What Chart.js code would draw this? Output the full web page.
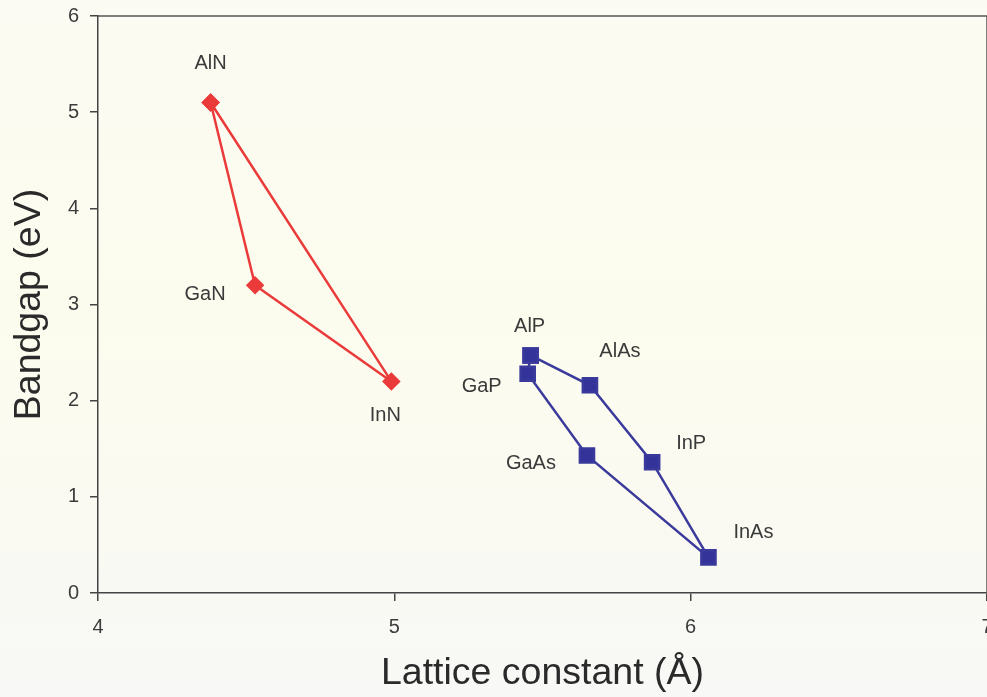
<!DOCTYPE html>
<html>
<head>
<meta charset="utf-8">
<title>Bandgap vs lattice constant</title>
<script src="https://cdn.jsdelivr.net/npm/chart.js@4.4.1/dist/chart.umd.min.js"></script>
<style>
  html, body { margin: 0; padding: 0; background: #fafaf4; }
  #wrap { width: 987px; height: 697px; }
</style>
</head>
<body>
<div id="wrap"><canvas id="gapChart" width="987" height="697"></canvas></div>
<script>
// III-nitrides: lattice constant (A) and bandgap (eV)
const nitrideNames = ["AlN", "GaN", "InN"];
const nitrideLattice = [4.38, 4.53, 4.99];
const nitrideGap = [5.1, 3.2, 2.2];

// III-phosphides / arsenides, listed round the outline
const arsenideNames = ["AlP", "AlAs", "InP", "InAs", "GaAs", "GaP"];
const arsenideLattice = [5.46, 5.66, 5.87, 6.06, 5.65, 5.45];
const arsenideGap = [2.47, 2.16, 1.36, 0.37, 1.43, 2.28];

const xTicks = [4, 5, 6, 7];
const yTicks = [0, 1, 2, 3, 4, 5, 6];

// closed outline: repeat the first point at the end
function outline(xs, ys) {
  const pts = xs.map((x, i) => ({ x: x, y: ys[i] }));
  pts.push({ x: xs[0], y: ys[0] });
  return pts;
}

// where each name sits relative to its marker (px)
const labelOffset = {
  AlN: [0, -39], GaN: [-50, 9], InN: [-6, 34],
  AlP: [-1, -29], AlAs: [30, -34], GaP: [-46, 13],
  InP: [39, -19], GaAs: [-56, 8], InAs: [45, -25]
};

const paperBg = {
  id: "paperBg",
  beforeDraw(chart) {
    const c = chart.ctx;
    const g = c.createLinearGradient(0, 0, 0, chart.height);
    g.addColorStop(0, "#fbfbf3");
    g.addColorStop(0.45, "#fcfcee");
    g.addColorStop(1, "#f8f8f6");
    c.save();
    c.fillStyle = g;
    c.fillRect(0, 0, chart.width, chart.height);
    c.restore();
  }
};

const frameAndNames = {
  id: "frameAndNames",
  afterDatasetsDraw(chart) {
    const c = chart.ctx;
    const a = chart.chartArea;
    c.save();
    c.strokeStyle = "#555";
    c.lineWidth = 1.5;
    c.beginPath();
    c.moveTo(a.left, a.top);
    c.lineTo(a.right, a.top);
    c.lineTo(a.right, a.bottom);
    c.stroke();

    c.font = "20px 'Liberation Sans', Arial, sans-serif";
    c.fillStyle = "#3a3a3a";
    c.textAlign = "center";
    c.textBaseline = "middle";
    chart.data.datasets.forEach((ds, di) => {
      const meta = chart.getDatasetMeta(di);
      ds.names.forEach((name, i) => {
        const pt = meta.data[i];
        const off = labelOffset[name] || [0, 0];
        c.fillText(name, pt.x + off[0], pt.y + off[1]);
      });
    });
    c.restore();
  }
};

const ctx = document.getElementById("gapChart").getContext("2d");
new Chart(ctx, {
  type: "scatter",
  data: {
    datasets: [
      {
        label: "Nitrides",
        names: nitrideNames,
        data: outline(nitrideLattice, nitrideGap),
        showLine: true,
        borderColor: "#ea3a3a",
        backgroundColor: "#ea3a3a",
        borderWidth: 2.5,
        pointStyle: "rectRot",
        pointRadius: 7.5,
        pointHoverRadius: 7.5
      },
      {
        label: "Phosphides and arsenides",
        names: arsenideNames,
        data: outline(arsenideLattice, arsenideGap),
        showLine: true,
        borderColor: "#3a3a9c",
        backgroundColor: "#33339a",
        borderWidth: 2.5,
        pointStyle: "rect",
        pointRadius: 10,
        pointHoverRadius: 10
      }
    ]
  },
  options: {
    responsive: false,
    animation: false,
    layout: { autoPadding: false, padding: { top: 16, right: 0, left: 0, bottom: 0 } },
    plugins: {
      legend: { display: false },
      tooltip: { enabled: false }
    },
    scales: {
      x: {
        type: "linear",
        min: 4,
        max: 7,
        afterBuildTicks(scale) {
          scale.ticks = xTicks.map(v => ({ value: v }));
        },
        afterFit(scale) {
          scale.height = 104;
          scale.paddingLeft = 0;
          scale.paddingRight = 0;
        },
        grid: {
          drawOnChartArea: false,
          drawTicks: true,
          tickLength: 8,
          color: "#444",
          lineWidth: 1.5
        },
        border: { display: true, color: "#444", width: 1.5 },
        ticks: {
          padding: 14,
          maxRotation: 0,
          color: "#3c3c3c",
          font: { family: "'Liberation Sans', Arial, sans-serif", size: 20 }
        },
        title: {
          display: true,
          text: "Lattice constant (Å)",
          color: "#2a2a2a",
          padding: { top: 0, bottom: 1 },
          font: { family: "'Liberation Sans', Arial, sans-serif", size: 37.5 }
        }
      },
      y: {
        type: "linear",
        min: 0,
        max: 6,
        afterBuildTicks(scale) {
          scale.ticks = yTicks.map(v => ({ value: v }));
        },
        afterFit(scale) {
          scale.width = 98;
          scale.paddingTop = 0;
          scale.paddingBottom = 0;
        },
        grid: {
          drawOnChartArea: false,
          drawTicks: true,
          tickLength: 8,
          color: "#444",
          lineWidth: 1.5
        },
        border: { display: true, color: "#444", width: 1.5 },
        ticks: {
          padding: 11,
          color: "#3c3c3c",
          font: { family: "'Liberation Sans', Arial, sans-serif", size: 20 }
        },
        title: {
          display: true,
          text: "Bandgap (eV)",
          color: "#2a2a2a",
          padding: { top: 7, bottom: 0 },
          font: { family: "'Liberation Sans', Arial, sans-serif", size: 37.5 }
        }
      }
    }
  },
  plugins: [paperBg, frameAndNames]
});
</script>
</body>
</html>
